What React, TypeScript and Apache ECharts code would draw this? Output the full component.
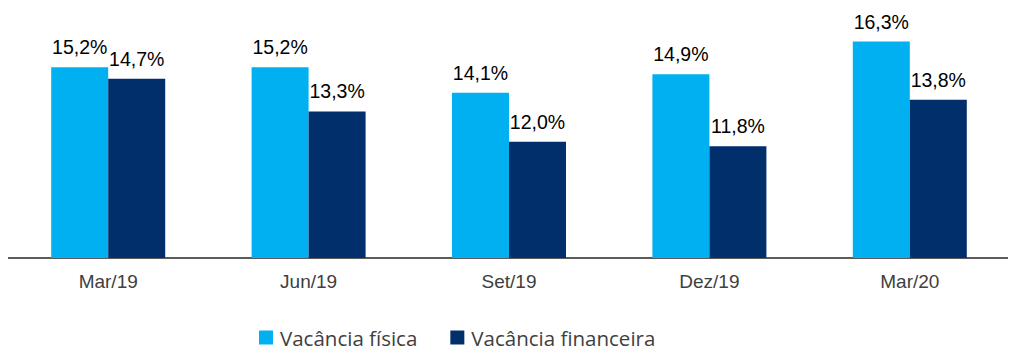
import React, { useEffect, useRef } from "react";
import * as echarts from "echarts";

const categories = ["Mar/19", "Jun/19", "Set/19", "Dez/19", "Mar/20"];
const vacanciaFisica = [15.2, 15.2, 14.1, 14.9, 16.3];
const vacanciaFinanceira = [14.7, 13.3, 12.0, 11.8, 13.8];
const seriesNames = ["Vacância física", "Vacância financeira"];

const fmt = (v: number) => v.toFixed(1).replace(".", ",") + "%";

export default function App() {
  const ref = useRef<HTMLDivElement>(null);
  useEffect(() => {
    const chart = echarts.init(ref.current!, null, { renderer: "svg" });
    const label = {
      show: true,
      position: "top" as const,
      distance: 10,
      color: "#000",
      fontFamily: "Liberation Sans, Arial, sans-serif",
      fontSize: 19.5,
      formatter: (p: any) => fmt(p.value),
    };
    chart.setOption({
      animation: false,
      grid: { left: 8, right: 6, top: 23, bottom: 99, containLabel: false },
      legend: {
        bottom: 4,
        left: 254,
        itemWidth: 14,
        itemHeight: 14,
        itemGap: 33,
        icon: "rect",
        textStyle: { fontFamily: "Open Sans, sans-serif", fontSize: 20.5, color: "#404040", padding: [0, 0, 0, 2] },
        data: seriesNames,
      },
      xAxis: {
        type: "category",
        data: categories,
        axisLine: { lineStyle: { color: "#262626", width: 1.5 } },
        axisTick: { show: false },
        axisLabel: {
          color: "#404040",
          fontFamily: "Liberation Sans, Arial, sans-serif",
          fontSize: 19,
          margin: 14,
        },
      },
      yAxis: {
        type: "value",
        min: 7,
        max: 17.1,
        show: false,
        splitLine: { show: false },
      },
      series: [
        {
          name: seriesNames[0],
          type: "bar",
          data: vacanciaFisica,
          barWidth: 57,
          barGap: "0%",
          itemStyle: { color: "#00B0F0" },
          label,
        },
        {
          name: seriesNames[1],
          type: "bar",
          data: vacanciaFinanceira,
          barWidth: 57,
          barGap: "0%",
          itemStyle: { color: "#002F6C" },
          label,
        },
      ],
    });
    return () => chart.dispose();
  }, []);
  return <div ref={ref} style={{ width: 1016, height: 357, margin: -8 }} />;
}
